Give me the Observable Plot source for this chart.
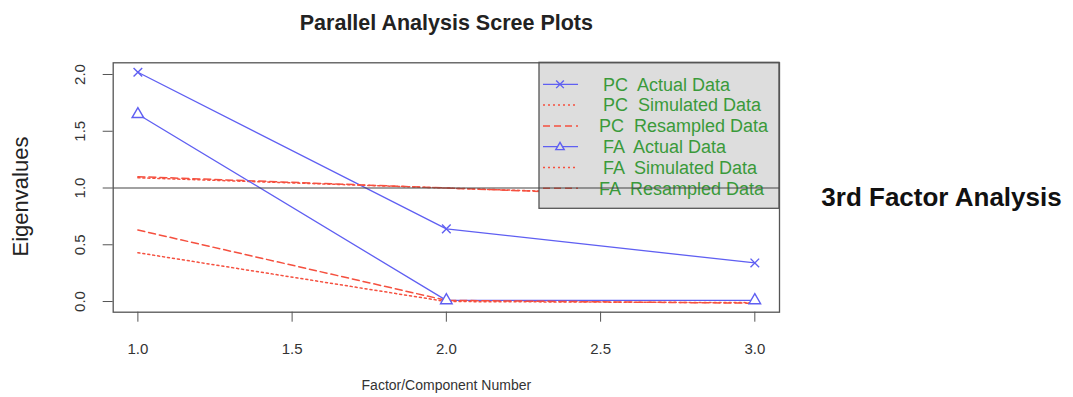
<!DOCTYPE html>
<html><head><meta charset="utf-8">
<script src="https://cdn.jsdelivr.net/npm/d3@7"></script>
<script src="https://cdn.jsdelivr.net/npm/@observablehq/plot@0.6"></script>
<style>body{margin:0;background:#fff;} #chart svg{display:block;}</style>
</head><body><div id="chart"></div>
<script>
// ---- data ----
const factors = [1, 2, 3];
const pcActual    = [2.02, 0.64, 0.34];
const pcSimulated = [1.09, 1.00, 0.91];
const pcResampled = [1.10, 1.00, 0.90];
const faActual    = [1.65, 0.01, 0.01];
const faSimulated = [0.43, 0.00, -0.01];
const faResampled = [0.63, 0.01, -0.015];
const xTicks = [1.0, 1.5, 2.0, 2.5, 3.0];
const yTicks = [0.0, 0.5, 1.0, 1.5, 2.0];
const legendLabels = ["PC  Actual Data", "PC  Simulated Data", "PC  Resampled Data",
                      "FA  Actual Data", "FA  Simulated Data", "FA  Resampled Data"];
const titleText = "Parallel Analysis Scree Plots";
const xLabel = "Factor/Component Number";
const yLabel = "Eigenvalues";
const sideNote = "3rd Factor Analysis";

// ---- styles ----
const BLUE = "#5f5ff2", RED = "#f5503f", GREEN = "#3a9a3a";
const FONT = "'Liberation Sans', Arial, Helvetica, sans-serif";
const styleOf = {
  solid:  {stroke: BLUE, strokeWidth: 1.3, dash: null},
  dotted: {stroke: RED, strokeWidth: 1.5, dash: "2,3"},
  dashed: {stroke: RED, strokeWidth: 1.5, dash: "7,4"}
};
const seriesList = [
  {name: legendLabels[0], values: pcActual,    kind: "solid",  symbol: "times"},
  {name: legendLabels[1], values: pcSimulated, kind: "dotted", symbol: null},
  {name: legendLabels[2], values: pcResampled, kind: "dashed", symbol: null},
  {name: legendLabels[3], values: faActual,    kind: "solid",  symbol: "triangle"},
  {name: legendLabels[4], values: faSimulated, kind: "dotted", symbol: null},
  {name: legendLabels[5], values: faResampled, kind: "dashed", symbol: null}
];
const rowsOf = s => factors.map((f, i) => ({x: f, y: s.values[i], name: s.name}));

// ---- legend drawn as a custom mark ----
function legendMark(index, scales, values, dims) {
  const right = dims.width - dims.marginRight;
  const top = dims.marginTop;
  const w = 240, h = 146, x0 = right - w;
  const g = d3.create("svg:g");
  g.append("rect").attr("x", x0).attr("y", top).attr("width", w).attr("height", h)
    .attr("fill", "#dddddd").attr("stroke", "#555").attr("stroke-width", 1.3);
  seriesList.forEach((s, i) => {
    const cy = top + 22 + i * 20.8;
    const st = styleOf[s.kind];
    g.append("line").attr("x1", x0 + 4).attr("x2", x0 + 39).attr("y1", cy).attr("y2", cy)
      .attr("stroke", st.stroke).attr("stroke-width", st.strokeWidth)
      .attr("stroke-dasharray", st.dash);
    if (s.symbol) {
      const sym = s.symbol === "times" ? d3.symbolTimes : d3.symbolTriangle2;
      const size = s.symbol === "times" ? 40 : 50;
      g.append("path").attr("d", d3.symbol(sym, size)())
        .attr("transform", `translate(${x0 + 21},${cy + (s.symbol === "triangle" ? 0.5 : 0)})`)
        .attr("fill", s.symbol === "times" ? "none" : "#dddddd").attr("stroke", BLUE).attr("stroke-width", 1.4);
    }
    g.append("text").attr("x", x0 + (s.name.includes("Resampled") ? 60 : 64)).attr("y", cy).attr("dy", "0.35em")
      .attr("text-anchor", "start")
      .attr("fill", GREEN).attr("font-size", 18).attr("font-family", FONT).text(s.name);
  });
  return g.node();
}

const marks = [];
seriesList.forEach(s => {
  const st = styleOf[s.kind];
  marks.push(Plot.line(rowsOf(s), {x: "x", y: "y", stroke: st.stroke, strokeWidth: st.strokeWidth,
    strokeDasharray: st.dash}));
});
seriesList.filter(s => s.symbol).forEach(s => {
  marks.push(Plot.dot(rowsOf(s), {x: "x", y: "y", symbol: s.symbol, r: s.symbol === "times" ? 4 : 4.3,
    stroke: BLUE, fill: s.symbol === "triangle" ? "white" : "none", strokeWidth: 1.4}));
});
marks.push(legendMark);
marks.push(Plot.ruleY([1], {stroke: "#444", strokeWidth: 1.1}));
marks.push(Plot.frame({stroke: "#555", strokeWidth: 1.3}));
marks.push(Plot.axisX({ticks: xTicks, tickSize: 10, tickPadding: 21, tickFormat: d3.format(".1f"),
  fontSize: 15, label: null, stroke: "#555", fill: "#333"}));
marks.push(Plot.axisY({ticks: yTicks, tickSize: 10, tickFormat: () => "", label: null, stroke: "#555"}));
marks.push(Plot.text(yTicks, {y: d => d, text: d => d3.format(".1f")(d), frameAnchor: "left", dx: -33,
  rotate: -90, fontSize: 15, textAnchor: "middle", lineAnchor: "middle", fill: "#333"}));
marks.push(Plot.text([titleText], {frameAnchor: "top", dy: -40, fontSize: 21.5, fontWeight: "bold",
  lineAnchor: "middle", fill: "#222"}));
marks.push(Plot.text([xLabel], {frameAnchor: "bottom", dy: 73, fontSize: 14, lineAnchor: "middle", fill: "#333"}));
marks.push(Plot.text([yLabel], {frameAnchor: "left", dx: -92, dy: 9, rotate: -90, fontSize: 22,
  lineAnchor: "middle", textAnchor: "middle", fill: "#222"}));
marks.push(Plot.text([sideNote], {frameAnchor: "right", dx: 162, dy: 10.5, fontSize: 26, fontWeight: "bold",
  lineAnchor: "middle", textAnchor: "middle", fill: "#111"}));

const chart = Plot.plot({
  width: 1073, height: 397,
  marginLeft: 112.7, marginRight: 294, marginTop: 62.3, marginBottom: 85.3,
  x: {domain: [0.92, 3.08], axis: null},
  y: {domain: [-0.094, 2.103], axis: null},
  style: {fontFamily: FONT, background: "white", overflow: "visible"},
  marks
});
document.getElementById("chart").appendChild(chart);
</script>
</body></html>
